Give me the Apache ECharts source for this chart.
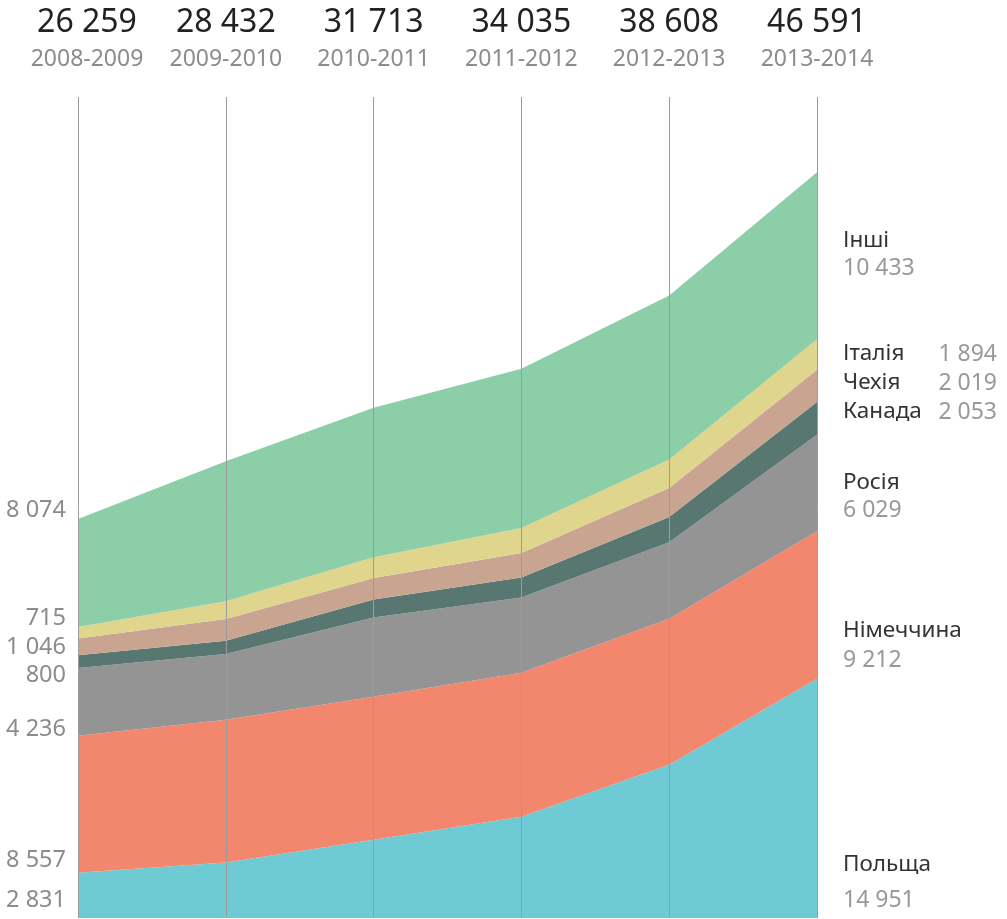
<!DOCTYPE html>
<html>
<head>
<meta charset="utf-8">
<script src="https://cdn.jsdelivr.net/npm/echarts@6/dist/echarts.min.js"></script>
<style>
html,body{margin:0;padding:0;background:#fff;}
#chart{width:1007px;height:919px;}
</style>
</head>
<body>
<div id="chart"></div>
<script>
// ---- data ----
const years = ['2008-2009', '2009-2010', '2010-2011', '2011-2012', '2012-2013', '2013-2014'];
const totals = [26259, 28432, 31713, 34035, 38608, 46591];
const countries = ['Польща', 'Німеччина', 'Росія', 'Канада', 'Чехія', 'Італія', 'Інші'];
const poland  = [2831, 3475, 4894, 6331, 9581, 14951];
const germany = [8557, 8919, 8938, 9000, 9125, 9212];
const russia  = [4236, 4106, 4938, 4688, 4769, 6029];
const canada  = [800, 831, 1125, 1250, 1588, 2053];
const czechia = [1046, 1356, 1356, 1544, 1813, 2019];
const italy   = [715, 1100, 1288, 1563, 1769, 1894];
const others  = [6750, 8750, 9338, 9938, 10250, 10433];
const startLabels = [2831, 8557, 4236, 800, 1046, 715, 8074];
const endLabels   = [14951, 9212, 6029, 2053, 2019, 1894, 10433];

// ---- styles ----
const colors = ['#6ecbd4', '#f2876e', '#949494', '#577770', '#c9a591', '#e0d58c', '#8bcea8'];
const FONT = '"Noto Sans", "DejaVu Sans", sans-serif';
const seriesData = [poland, germany, russia, canada, czechia, italy, others];

function fmt(n) { return String(n).replace(/\B(?=(\d{3})+(?!\d))/g, ' '); }

const chart = echarts.init(document.getElementById('chart'), null, {renderer: 'canvas'});

const series = countries.map((name, i) => ({
  name: name,
  type: 'line',
  stack: 'total',
  data: seriesData[i],
  symbol: 'none',
  lineStyle: {width: 0},
  areaStyle: {color: colors[i], opacity: 1},
  itemStyle: {color: colors[i]},
  z: 2
}));

// label positions (text placement only)
const leftY  = [900, 860, 729, 675, 647, 618, 510];
const rightNameY = [865, 631, 483, 412, 383, 354, 241];
const rightValY  = [900, 660, 510, 412, 383, 354, 268];
const graphics = [];
countries.forEach((name, i) => {
  graphics.push({type: 'text', x: 66, y: leftY[i], silent: true,
    style: {text: fmt(startLabels[i]), fill: '#8c8c8c', font: '23.5px ' + FONT, align: 'right', verticalAlign: 'middle'}});
  graphics.push({type: 'text', x: 843, y: rightNameY[i], silent: true,
    style: {text: name, fill: '#333333', font: '22.5px ' + FONT, align: 'left', verticalAlign: 'middle'}});
  const inline = (i >= 3 && i <= 5);
  graphics.push({type: 'text', x: inline ? 997 : 843, y: rightValY[i], silent: true,
    style: {text: fmt(endLabels[i]), fill: '#999999', font: '23px ' + FONT, align: inline ? 'right' : 'left', verticalAlign: 'middle'}});
});

chart.setOption({
  backgroundColor: '#ffffff',
  animation: false,
  grid: {left: 78, right: 190, top: 97, bottom: 1, containLabel: false},
  xAxis: {
    type: 'category',
    data: years,
    position: 'top',
    boundaryGap: false,
    z: 5,
    axisLine: {show: false},
    axisTick: {show: false},
    splitLine: {show: true, interval: 0, lineStyle: {color: '#9c9c9c', width: 1}},
    axisLabel: {
      interval: 0,
      margin: 21,
      formatter: function (v, idx) {
        const s = idx === 0 ? '0' : '';
        return '{a' + s + '|' + fmt(totals[idx]) + '}\n{b' + s + '|' + v + '}';
      },
      rich: {
        a: {fontSize: 32, lineHeight: 40, color: '#222222', fontFamily: FONT, align: 'center'},
        b: {fontSize: 23, lineHeight: 33, color: '#8c8c8c', fontFamily: FONT, align: 'center'},
        a0: {fontSize: 32, lineHeight: 40, color: '#222222', fontFamily: FONT, align: 'center', padding: [0, 0, 0, 18]},
        b0: {fontSize: 23, lineHeight: 33, color: '#8c8c8c', fontFamily: FONT, align: 'center', padding: [0, 0, 0, 18]}
      }
    }
  },
  yAxis: {
    type: 'value',
    min: 0,
    max: 51300,
    show: false,
    splitLine: {show: false}
  },
  series: series,
  graphic: graphics
});
</script>
</body>
</html>
